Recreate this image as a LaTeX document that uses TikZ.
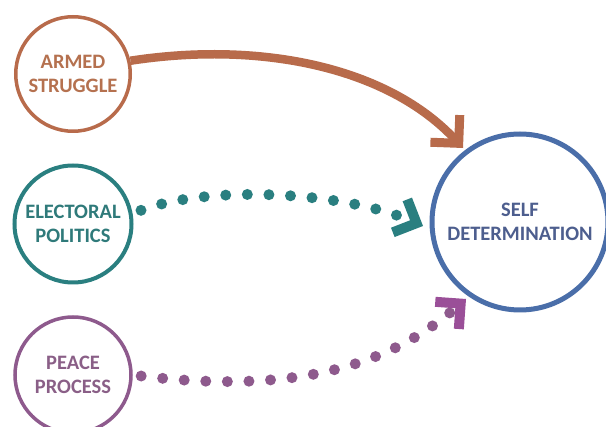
\documentclass[tikz,border=0pt]{standalone}
\usepackage{fontspec}
\setmainfont{Carlito}
\usetikzlibrary{arrows.meta}
\definecolor{brownc}{HTML}{B86B4B}
\definecolor{browntxt}{HTML}{B5714F}
\definecolor{tealc}{HTML}{2A7F80}
\definecolor{tealtxt}{HTML}{2F7A7A}
\definecolor{purpc}{HTML}{8E5A8D}
\definecolor{purptip}{HTML}{9A4F98}
\definecolor{purptxt}{HTML}{8A5F87}
\definecolor{bluec}{HTML}{4A6EA9}
\definecolor{bluetxt}{HTML}{4D5E8E}
\begin{document}
\begin{tikzpicture}[x=1pt,y=-1pt,
  bubble/.style={circle, draw, fill=white, inner sep=0pt, align=center,
    font=\fontsize{20.5}{24}\selectfont\bfseries},
  dotline/.style={line width=11pt, line cap=round, dash pattern=on 0pt off 21.6pt},
]
\fill[white] (0,0) rectangle (606,427);
\useasboundingbox (0,0) rectangle (606,427);
\clip (0,0) rectangle (606,427);

\node[bubble, minimum size=114.5pt, line width=3.5pt, draw=brownc, text=browntxt] (as) at (73,74) {ARMED\\STRUGGLE};
\node[bubble, minimum size=117pt, line width=4pt, draw=tealc, text=tealtxt] (es) at (73,224) {ELECTORAL\\POLITICS};
\node[bubble, minimum size=116pt, line width=3.5pt, draw=purpc, text=purptxt] (ps) at (73,375) {PEACE\\PROCESS};
\node[bubble, minimum size=176pt, line width=5pt, draw=bluec, text=bluetxt] (sd) at (520,222) {SELF\\DETERMINATION};

\coordinate (t1) at (463,148);
\coordinate (t2) at (423,226);
\coordinate (t3) at (466,299);

\draw[brownc, line width=8.5pt,
  -{Straight Barb[sharp, length=20pt, width=40pt, line width=9pt]}]
  (as.13) .. controls +(130,-20) and +(-75,-81) .. (t1);

\draw[tealc, dotline, shorten <=9pt,
  -{Straight Barb[sharp, length=18pt, width=36pt, line width=10pt]}]
  (es.10) .. controls +(80,-30) and +(-75,-33) .. (t2);

\draw[purpc, dotline, shorten <=8.5pt,
  -{Straight Barb[sharp, length=18pt, width=36pt, line width=10pt, color=purptip]}]
  (ps.0) .. controls +(166,20) and +(-75,65) .. (t3);
\end{tikzpicture}
\end{document}
